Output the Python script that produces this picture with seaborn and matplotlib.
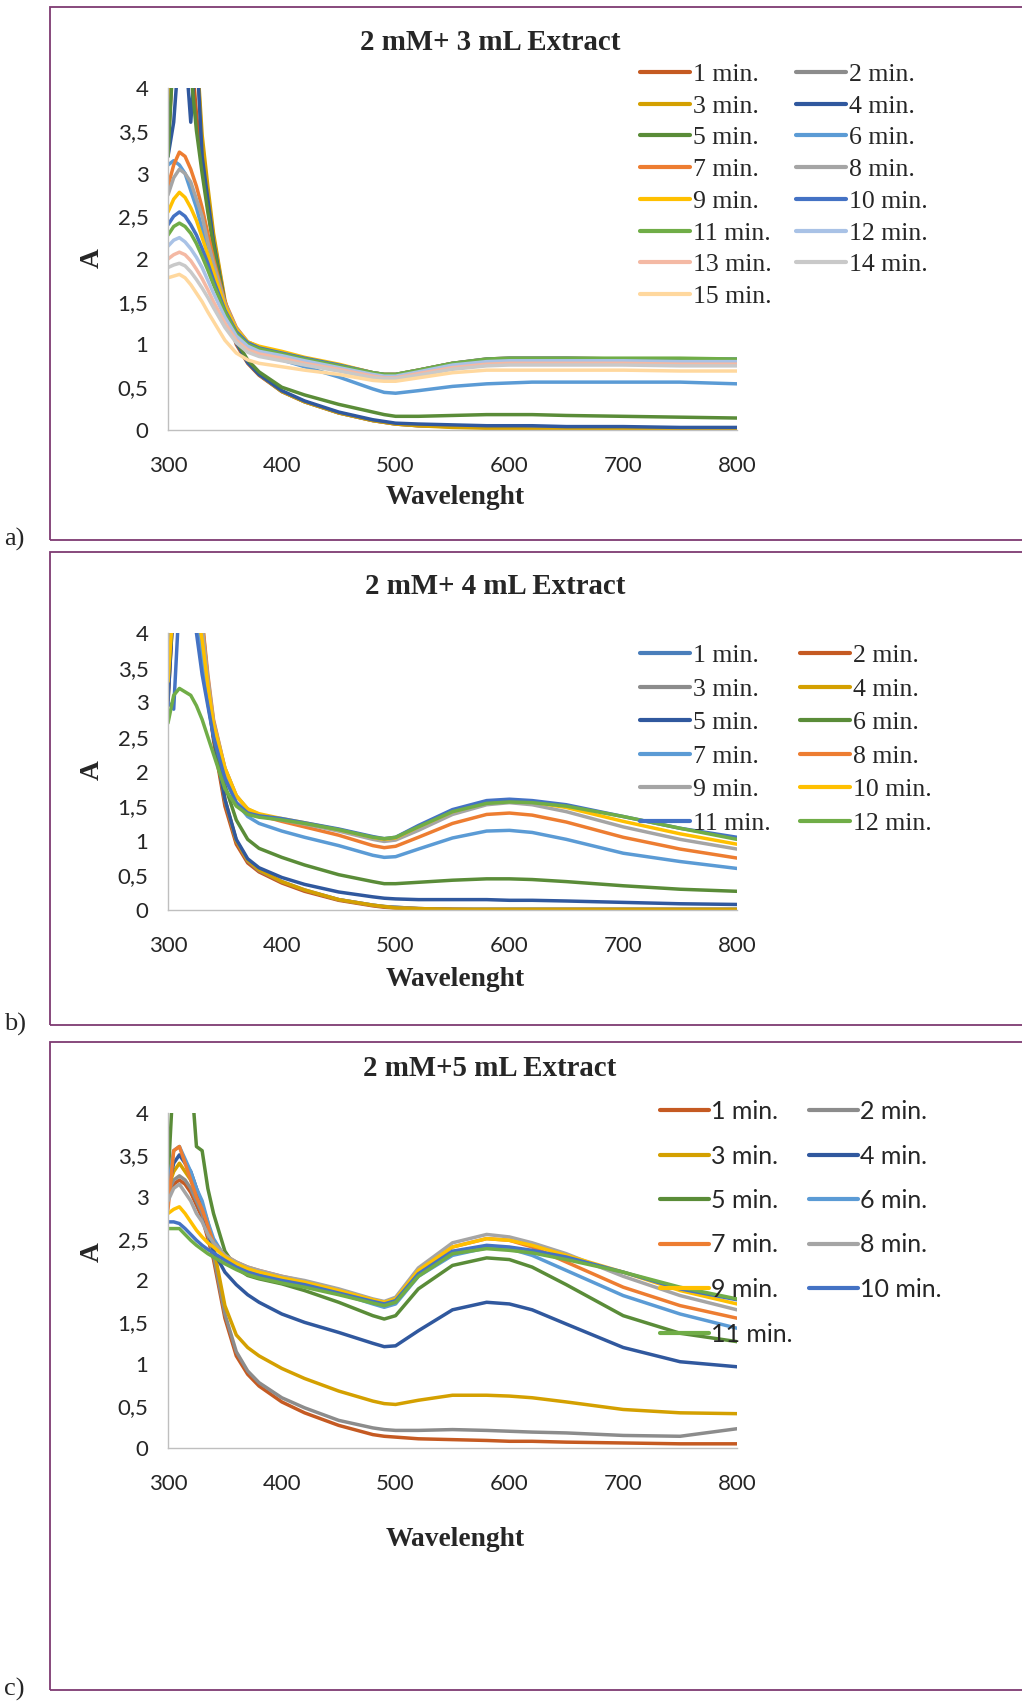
import matplotlib
matplotlib.use("Agg")
import matplotlib.pyplot as plt
from matplotlib.patches import Rectangle
import seaborn as sns
import pandas as pd

# ---------------- data ----------------
WL = [300, 305, 310, 315, 320, 325, 330, 335, 340, 350, 360, 370, 380, 400, 420,
      450, 480, 490, 500, 520, 550, 580, 600, 620, 650, 700, 750, 800]

X_TICKS = [300, 400, 500, 600, 700, 800]
Y_TICKS = [0, 0.5, 1, 1.5, 2, 2.5, 3, 3.5, 4]
Y_TICK_LABELS = ["0", "0,5", "1", "1,5", "2", "2,5", "3", "3,5", "4"]

TITLE_A = "2 mM+ 3 mL Extract"
TITLE_B = "2 mM+ 4 mL Extract"
TITLE_C = "2 mM+5 mL Extract"
XLABEL = "Wavelenght"
YLABEL = "A"

# panel a: 2 mM + 3 mL extract
a_01 = [3.30, 4.50, 4.50, 4.50, 4.50, 3.70, 3.10, 2.60, 2.15, 1.45, 1.00, 0.78, 0.64, 0.45, 0.33, 0.20, 0.11, 0.09, 0.07, 0.05, 0.04, 0.03, 0.03, 0.02, 0.02, 0.02, 0.01, 0.01]
a_02 = [3.40, 4.50, 4.50, 4.50, 4.50, 4.50, 3.30, 2.75, 2.25, 1.50, 1.02, 0.79, 0.65, 0.45, 0.33, 0.20, 0.11, 0.09, 0.07, 0.05, 0.04, 0.03, 0.03, 0.03, 0.02, 0.02, 0.02, 0.02]
a_03 = [3.60, 4.50, 4.50, 4.50, 4.50, 4.50, 3.45, 2.85, 2.30, 1.52, 1.03, 0.80, 0.65, 0.45, 0.33, 0.20, 0.11, 0.09, 0.07, 0.05, 0.03, 0.02, 0.02, 0.01, 0.01, 0.01, 0.00, 0.00]
a_04 = [3.20, 3.60, 4.50, 4.50, 3.60, 4.50, 3.20, 2.70, 2.20, 1.48, 1.02, 0.79, 0.65, 0.46, 0.34, 0.21, 0.12, 0.10, 0.08, 0.07, 0.06, 0.05, 0.05, 0.05, 0.04, 0.04, 0.03, 0.03]
a_05 = [3.20, 4.50, 4.50, 4.50, 4.20, 3.50, 3.00, 2.55, 2.15, 1.48, 1.04, 0.82, 0.68, 0.50, 0.41, 0.30, 0.21, 0.18, 0.16, 0.16, 0.17, 0.18, 0.18, 0.18, 0.17, 0.16, 0.15, 0.14]
a_06 = [3.10, 3.15, 3.10, 3.00, 2.80, 2.60, 2.35, 2.05, 1.80, 1.35, 1.10, 0.97, 0.90, 0.82, 0.74, 0.62, 0.48, 0.44, 0.43, 0.46, 0.51, 0.54, 0.55, 0.56, 0.56, 0.56, 0.56, 0.54]
a_07 = [2.85, 3.10, 3.25, 3.20, 3.05, 2.85, 2.60, 2.30, 2.00, 1.50, 1.20, 1.03, 0.97, 0.90, 0.84, 0.76, 0.67, 0.65, 0.65, 0.70, 0.78, 0.83, 0.84, 0.84, 0.84, 0.83, 0.83, 0.82]
a_08 = [2.75, 2.95, 3.05, 3.00, 2.90, 2.70, 2.50, 2.20, 1.95, 1.48, 1.19, 1.03, 0.97, 0.90, 0.84, 0.76, 0.67, 0.65, 0.65, 0.70, 0.78, 0.82, 0.83, 0.83, 0.83, 0.82, 0.82, 0.81]
a_09 = [2.55, 2.70, 2.78, 2.72, 2.60, 2.45, 2.25, 2.05, 1.85, 1.45, 1.18, 1.03, 0.98, 0.92, 0.85, 0.77, 0.67, 0.65, 0.65, 0.70, 0.78, 0.82, 0.83, 0.83, 0.83, 0.82, 0.82, 0.82]
a_10 = [2.40, 2.50, 2.55, 2.50, 2.40, 2.28, 2.12, 1.95, 1.75, 1.40, 1.15, 1.02, 0.96, 0.90, 0.84, 0.76, 0.67, 0.65, 0.65, 0.70, 0.78, 0.83, 0.84, 0.84, 0.84, 0.83, 0.83, 0.83]
a_11 = [2.28, 2.38, 2.42, 2.38, 2.30, 2.18, 2.03, 1.87, 1.70, 1.38, 1.13, 1.00, 0.95, 0.89, 0.83, 0.75, 0.67, 0.65, 0.65, 0.70, 0.78, 0.83, 0.84, 0.84, 0.84, 0.84, 0.84, 0.83]
a_12 = [2.15, 2.22, 2.25, 2.20, 2.12, 2.02, 1.90, 1.75, 1.60, 1.32, 1.10, 0.98, 0.92, 0.87, 0.81, 0.73, 0.65, 0.63, 0.63, 0.68, 0.76, 0.80, 0.81, 0.81, 0.81, 0.81, 0.80, 0.80]
a_13 = [2.00, 2.05, 2.08, 2.05, 1.98, 1.88, 1.77, 1.64, 1.50, 1.25, 1.05, 0.94, 0.89, 0.84, 0.78, 0.71, 0.63, 0.61, 0.61, 0.66, 0.73, 0.77, 0.78, 0.78, 0.78, 0.78, 0.77, 0.77]
a_14 = [1.90, 1.93, 1.95, 1.92, 1.85, 1.76, 1.66, 1.55, 1.43, 1.20, 1.02, 0.91, 0.86, 0.81, 0.76, 0.69, 0.61, 0.60, 0.60, 0.64, 0.71, 0.75, 0.76, 0.76, 0.76, 0.76, 0.75, 0.75]
a_15 = [1.78, 1.80, 1.82, 1.78, 1.70, 1.60, 1.50, 1.38, 1.27, 1.05, 0.90, 0.82, 0.78, 0.74, 0.70, 0.65, 0.58, 0.57, 0.57, 0.61, 0.67, 0.70, 0.70, 0.70, 0.70, 0.70, 0.69, 0.69]

# panel b: 2 mM + 4 mL extract
b_01 = [3.10, 4.50, 4.50, 4.50, 4.50, 4.50, 4.00, 3.20, 2.50, 1.55, 0.98, 0.70, 0.56, 0.40, 0.28, 0.15, 0.07, 0.05, 0.04, 0.02, 0.01, 0.01, 0.01, 0.01, 0.01, 0.01, 0.01, 0.01]
b_02 = [3.00, 4.50, 4.50, 4.50, 4.50, 4.50, 3.90, 3.10, 2.45, 1.50, 0.95, 0.68, 0.55, 0.39, 0.27, 0.14, 0.06, 0.04, 0.03, 0.02, 0.01, 0.00, 0.00, 0.00, 0.00, 0.00, 0.00, 0.00]
b_03 = [3.30, 4.50, 4.50, 4.50, 4.50, 4.50, 4.10, 3.25, 2.55, 1.58, 1.00, 0.71, 0.57, 0.41, 0.29, 0.15, 0.07, 0.05, 0.04, 0.02, 0.01, 0.01, 0.01, 0.01, 0.01, 0.01, 0.01, 0.01]
b_04 = [3.40, 4.50, 4.50, 4.50, 4.50, 4.50, 4.20, 3.30, 2.60, 1.60, 1.00, 0.72, 0.58, 0.41, 0.29, 0.15, 0.07, 0.05, 0.03, 0.02, 0.01, 0.01, 0.01, 0.01, 0.01, 0.01, 0.01, 0.01]
b_05 = [3.00, 4.50, 4.50, 4.50, 4.50, 4.50, 3.80, 3.10, 2.50, 1.60, 1.02, 0.74, 0.61, 0.47, 0.37, 0.26, 0.19, 0.17, 0.16, 0.15, 0.15, 0.15, 0.14, 0.14, 0.13, 0.11, 0.09, 0.08]
b_06 = [3.30, 4.50, 4.50, 4.50, 4.50, 4.20, 3.60, 3.00, 2.50, 1.80, 1.30, 1.02, 0.89, 0.76, 0.65, 0.51, 0.41, 0.38, 0.38, 0.40, 0.43, 0.45, 0.45, 0.44, 0.41, 0.35, 0.30, 0.27]
b_07 = [3.60, 4.50, 4.50, 4.50, 4.50, 4.30, 3.70, 3.10, 2.65, 1.95, 1.55, 1.35, 1.25, 1.14, 1.05, 0.93, 0.79, 0.76, 0.77, 0.88, 1.04, 1.14, 1.15, 1.12, 1.02, 0.82, 0.70, 0.60]
b_08 = [4.00, 4.50, 4.50, 4.50, 4.50, 4.50, 4.20, 3.40, 2.75, 2.05, 1.65, 1.45, 1.37, 1.28, 1.20, 1.08, 0.93, 0.90, 0.92, 1.05, 1.25, 1.38, 1.40, 1.37, 1.27, 1.05, 0.88, 0.75]
b_09 = [3.60, 4.50, 4.50, 4.50, 4.50, 4.50, 4.10, 3.35, 2.72, 2.05, 1.65, 1.46, 1.38, 1.30, 1.24, 1.14, 1.02, 0.99, 1.01, 1.15, 1.38, 1.52, 1.55, 1.52, 1.42, 1.20, 1.02, 0.88]
b_10 = [3.30, 4.50, 4.50, 4.50, 4.50, 4.40, 3.90, 3.25, 2.68, 2.05, 1.65, 1.46, 1.39, 1.32, 1.26, 1.16, 1.05, 1.02, 1.04, 1.20, 1.42, 1.55, 1.58, 1.56, 1.48, 1.28, 1.10, 0.95]
b_11 = [3.00, 2.90, 4.50, 4.50, 4.50, 4.00, 3.40, 2.95, 2.50, 1.90, 1.55, 1.40, 1.36, 1.32, 1.26, 1.17, 1.06, 1.03, 1.05, 1.22, 1.45, 1.58, 1.60, 1.58, 1.52, 1.35, 1.18, 1.05]
b_12 = [2.70, 3.10, 3.20, 3.15, 3.10, 2.95, 2.75, 2.50, 2.25, 1.75, 1.50, 1.38, 1.34, 1.30, 1.25, 1.16, 1.05, 1.03, 1.05, 1.20, 1.42, 1.54, 1.56, 1.55, 1.50, 1.35, 1.18, 1.02]

# panel c: 2 mM + 5 mL extract
c_01 = [3.00, 3.15, 3.20, 3.15, 3.05, 2.90, 2.75, 2.50, 2.25, 1.55, 1.10, 0.88, 0.74, 0.55, 0.42, 0.27, 0.16, 0.14, 0.13, 0.11, 0.10, 0.09, 0.08, 0.08, 0.07, 0.06, 0.05, 0.05]
c_02 = [3.05, 3.20, 3.25, 3.20, 3.10, 2.95, 2.80, 2.55, 2.30, 1.60, 1.15, 0.92, 0.78, 0.60, 0.48, 0.33, 0.24, 0.22, 0.21, 0.21, 0.22, 0.21, 0.20, 0.19, 0.18, 0.15, 0.14, 0.23]
c_03 = [3.10, 3.30, 3.40, 3.30, 3.20, 3.05, 2.90, 2.70, 2.40, 1.70, 1.35, 1.20, 1.10, 0.95, 0.83, 0.68, 0.56, 0.53, 0.52, 0.57, 0.63, 0.63, 0.62, 0.60, 0.55, 0.46, 0.42, 0.41]
c_04 = [3.10, 3.40, 3.50, 3.40, 3.30, 3.10, 2.90, 2.60, 2.35, 2.10, 1.95, 1.83, 1.74, 1.60, 1.50, 1.38, 1.25, 1.21, 1.22, 1.40, 1.65, 1.74, 1.72, 1.65, 1.48, 1.20, 1.03, 0.97]
c_05 = [3.20, 4.50, 4.50, 4.50, 4.50, 3.60, 3.55, 3.10, 2.80, 2.35, 2.15, 2.06, 2.02, 1.96, 1.88, 1.74, 1.58, 1.54, 1.58, 1.90, 2.18, 2.27, 2.25, 2.16, 1.95, 1.58, 1.37, 1.27]
c_06 = [3.10, 3.55, 3.60, 3.45, 3.30, 3.10, 2.95, 2.70, 2.50, 2.28, 2.18, 2.12, 2.08, 2.02, 1.96, 1.85, 1.72, 1.68, 1.72, 2.05, 2.30, 2.39, 2.38, 2.30, 2.12, 1.82, 1.60, 1.43]
c_07 = [2.85, 3.55, 3.60, 3.40, 3.20, 3.00, 2.85, 2.65, 2.45, 2.30, 2.22, 2.16, 2.12, 2.05, 1.99, 1.89, 1.77, 1.74, 1.78, 2.10, 2.40, 2.50, 2.48, 2.40, 2.22, 1.92, 1.70, 1.55]
c_08 = [2.95, 3.10, 3.15, 3.05, 2.95, 2.80, 2.70, 2.55, 2.45, 2.30, 2.22, 2.16, 2.12, 2.05, 2.00, 1.90, 1.78, 1.75, 1.80, 2.15, 2.45, 2.55, 2.52, 2.45, 2.32, 2.05, 1.82, 1.65]
c_09 = [2.80, 2.85, 2.88, 2.80, 2.70, 2.60, 2.52, 2.45, 2.40, 2.28, 2.20, 2.14, 2.10, 2.03, 1.98, 1.88, 1.77, 1.74, 1.78, 2.12, 2.40, 2.50, 2.48, 2.42, 2.30, 2.10, 1.88, 1.72]
c_10 = [2.70, 2.70, 2.68, 2.62, 2.55, 2.48, 2.42, 2.37, 2.33, 2.24, 2.16, 2.10, 2.06, 2.00, 1.95, 1.85, 1.75, 1.72, 1.76, 2.08, 2.35, 2.42, 2.40, 2.36, 2.28, 2.10, 1.90, 1.77]
c_11 = [2.62, 2.62, 2.62, 2.55, 2.48, 2.42, 2.37, 2.32, 2.28, 2.20, 2.13, 2.07, 2.03, 1.97, 1.92, 1.83, 1.73, 1.70, 1.74, 2.05, 2.32, 2.38, 2.36, 2.33, 2.25, 2.10, 1.92, 1.78]

SERIES_A = [a_01, a_02, a_03, a_04, a_05, a_06, a_07, a_08, a_09, a_10, a_11, a_12, a_13, a_14, a_15]
SERIES_B = [b_01, b_02, b_03, b_04, b_05, b_06, b_07, b_08, b_09, b_10, b_11, b_12]
SERIES_C = [c_01, c_02, c_03, c_04, c_05, c_06, c_07, c_08, c_09, c_10, c_11]

LABELS_A = [f"{i} min." for i in range(1, 16)]
LABELS_B = [f"{i} min." for i in range(1, 13)]
LABELS_C = [f"{i} min." for i in range(1, 12)]

COLORS_A = ["#C55A22", "#8C8C8C", "#D4A000", "#30589E", "#5A8C38", "#5B9BD5", "#ED7D31",
            "#A5A5A5", "#FFC000", "#4472C4", "#70AD47", "#A9C2E6", "#F4B9A4", "#C9C9C9", "#FFD89E"]
COLORS_B = ["#4A7EBB", "#C55A22", "#8C8C8C", "#D4A000", "#30589E", "#5A8C38", "#5B9BD5",
            "#ED7D31", "#A5A5A5", "#FFC000", "#4472C4", "#70AD47"]
COLORS_C = ["#C55A22", "#8C8C8C", "#D4A000", "#30589E", "#5A8C38", "#5B9BD5", "#ED7D31",
            "#A5A5A5", "#FFC000", "#4472C4", "#70AD47"]

# ---------------- style ----------------
sns.set_style("white")
plt.rcParams["font.family"] = ["Lato", "DejaVu Sans"]
SERIF = ["Liberation Serif", "DejaVu Serif"]
SANS = ["Lato", "DejaVu Sans"]

W, H = 1022, 1702
fig = plt.figure(figsize=(W / 100, H / 100), dpi=100)


def fx(px):
    return px / W


def fy(py):
    return 1 - py / H


PANELS = [
    dict(series=SERIES_A, labels=LABELS_A, colors=COLORS_A, title=TITLE_A, tag="a)",
         ax_top=88, ax_bot=430, box_top=7, box_bot=540, title_xy=(490, 43),
         xlab_y=498, ylab_y=258, leg_xy=(640, 63), leg_font=SERIF, leg_size=18.5,
         leg_spacing=0.34, col_spacing=0.95),
    dict(series=SERIES_B, labels=LABELS_B, colors=COLORS_B, title=TITLE_B, tag="b)",
         ax_top=633, ax_bot=910, box_top=552, box_bot=1025, title_xy=(495, 587),
         xlab_y=980, ylab_y=770, leg_xy=(640, 644), leg_font=SERIF, leg_size=18.5,
         leg_spacing=0.41, col_spacing=1.15),
    dict(series=SERIES_C, labels=LABELS_C, colors=COLORS_C, title=TITLE_C, tag="c)",
         ax_top=1113, ax_bot=1448, box_top=1042, box_bot=1690, title_xy=(490, 1068),
         xlab_y=1540, ylab_y=1252, leg_xy=(660, 1100), leg_font=SANS, leg_size=18,
         leg_spacing=0.86, col_spacing=0.65),
]

AX_LEFT, AX_RIGHT = 168, 737
BORDER = "#7E3A72"

for p in PANELS:
    # frame around each panel
    fig.patches.append(Rectangle((fx(50), fy(p["box_bot"])), 1.2,
                                 (p["box_bot"] - p["box_top"]) / H,
                                 transform=fig.transFigure, fill=False,
                                 edgecolor=BORDER, linewidth=1.3, zorder=0))
    fig.text(fx(4), fy(p["box_bot"] - 1), p["tag"], fontsize=19, family=SERIF,
             ha="left", va="center")

    ax = fig.add_axes([fx(AX_LEFT), fy(p["ax_bot"]), fx(AX_RIGHT - AX_LEFT),
                       (p["ax_bot"] - p["ax_top"]) / H])
    rows = []
    for lab, vals in zip(p["labels"], p["series"]):
        for w, a in zip(WL, vals):
            rows.append({"wl": w, "A": a, "series": lab})
    df = pd.DataFrame(rows)
    sns.lineplot(data=df, x="wl", y="A", hue="series", hue_order=p["labels"],
                 palette=p["colors"], estimator=None, sort=False, linewidth=2.5,
                 legend=False, ax=ax)
    ax.set_xlim(300, 800)
    ax.set_ylim(0, 4)
    ax.set_xticks(X_TICKS)
    ax.set_xticklabels([str(t) for t in X_TICKS])
    ax.set_yticks(Y_TICKS)
    ax.set_yticklabels(Y_TICK_LABELS)
    ax.tick_params(axis="both", length=0, labelsize=16)
    ax.tick_params(axis="x", pad=18.5)
    ax.tick_params(axis="y", pad=14)
    for t in ax.get_xticklabels() + ax.get_yticklabels():
        t.set_family(SANS)
    for s in ["top", "right"]:
        ax.spines[s].set_visible(False)
    for s in ["left", "bottom"]:
        ax.spines[s].set_color("#BFBFBF")
        ax.spines[s].set_linewidth(1.0)
    ax.set_xlabel("")
    ax.set_ylabel("")
    ax.patch.set_alpha(0)

    fig.text(fx(p["title_xy"][0]), fy(p["title_xy"][1]), p["title"], fontsize=20.8,
             fontweight="bold", family=SERIF, ha="center", va="center")
    fig.text(fx(455), fy(p["xlab_y"]), XLABEL, fontsize=19.8, fontweight="bold",
             family=SERIF, ha="center", va="center")
    fig.text(fx(92), fy(p["ylab_y"]), YLABEL, fontsize=19.8, fontweight="bold",
             family=SERIF, ha="center", va="center", rotation=90)

    lines = ax.get_lines()[:len(p["labels"])]
    order = list(range(0, len(lines), 2)) + list(range(1, len(lines), 2))
    leg = fig.legend([lines[i] for i in order], [p["labels"][i] for i in order],
                     loc="upper left",
                     bbox_to_anchor=(fx(p["leg_xy"][0]), fy(p["leg_xy"][1])),
                     bbox_transform=fig.transFigure, ncol=2, frameon=False,
                     borderpad=0, borderaxespad=0, handlelength=1.95,
                     handletextpad=0.1, columnspacing=p["col_spacing"],
                     labelspacing=p["leg_spacing"],
                     prop={"family": p["leg_font"], "size": p["leg_size"]})
    for h in leg.get_lines():
        h.set_linewidth(3)

fig.savefig("out.png", dpi=100, facecolor="white")
